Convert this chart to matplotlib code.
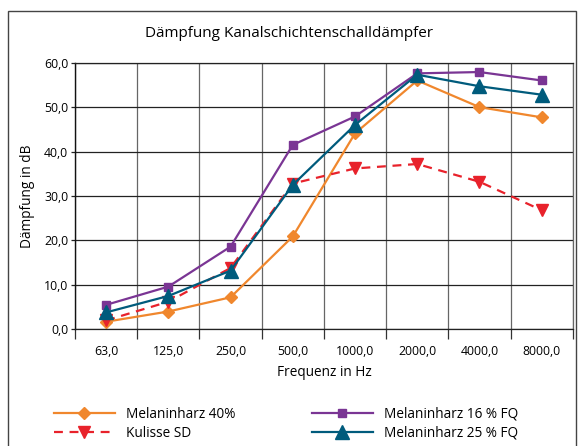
import matplotlib.pyplot as plt
import numpy as np
from matplotlib.patches import Rectangle

plt.rcParams['font.family'] = ['Open Sans', 'DejaVu Sans']

freqs = ["63,0", "125,0", "250,0", "500,0", "1000,0", "2000,0", "4000,0", "8000,0"]
melanin_40 = [1.7, 4.0, 7.2, 20.9, 44.1, 56.0, 50.0, 47.7]
kulisse_sd = [2.0, 6.2, 13.8, 32.8, 36.2, 37.2, 33.2, 26.8]
melanin_16 = [5.5, 9.6, 18.6, 41.5, 47.9, 57.6, 57.9, 56.0]
melanin_25 = [3.8, 7.5, 13.2, 32.5, 46.0, 57.3, 54.7, 52.8]

fig = plt.figure(figsize=(5.78, 4.46), dpi=100)
ax = fig.add_axes([0.1298, 0.2617, 0.991 - 0.1298, 0.8594 - 0.2617])

x = np.arange(len(freqs))
l1, = ax.plot(x, melanin_40, color="#F0872D", marker="D", markersize=6, lw=1.6, label="Melaninharz 40%")
l2, = ax.plot(x, kulisse_sd, color="#E8222B", marker="v", markersize=9, lw=1.6, ls=(0, (4, 3)), label="Kulisse SD")
l3, = ax.plot(x, melanin_16, color="#7A3594", marker="s", markersize=6, lw=1.6, label="Melaninharz 16 % FQ")
l4, = ax.plot(x, melanin_25, color="#005B7C", marker="^", markersize=10, lw=1.6, label="Melaninharz 25 % FQ")

ax.set_xlim(-0.5, len(freqs) - 0.5)
ax.set_ylim(0, 60)
ax.set_yticks(np.arange(0, 61, 10))
ax.set_yticklabels([f"{v:.1f}".replace(".", ",") for v in np.arange(0, 61, 10)], fontsize=8.8)
ax.set_xticks(x)
ax.set_xticklabels(freqs, fontsize=8.8)
ax.tick_params(axis="x", length=0, pad=11)
ax.set_xticks(np.arange(-0.5, len(freqs)), minor=True)
ax.tick_params(axis="x", which="minor", length=7, width=0.9, color="#333333", direction="out")
ax.tick_params(axis="y", length=3, width=0.9, color="#222222", pad=2)

ax.grid(axis="y", color="#222222", lw=0.9)
ax.grid(axis="x", which="minor", color="#666666", lw=0.9)
ax.set_axisbelow(True)
for side in ["top", "bottom"]:
    ax.spines[side].set_color("#222222")
    ax.spines[side].set_linewidth(0.9)
ax.spines["left"].set_color("#111111")
ax.spines["left"].set_linewidth(1.0)
ax.spines["right"].set_color("#666666")
ax.spines["right"].set_linewidth(0.9)

ax.set_xlabel("Frequenz in Hz", fontsize=9.8, labelpad=5)
ax.set_ylabel("Dämpfung in dB", fontsize=9.8, labelpad=6)
fig.text(0.5, 0.925, "Dämpfung Kanalschichtenschalldämpfer", ha="center", va="center", fontsize=11)

fig.patches.append(Rectangle((8 / 578, -0.05), 568 / 578, 1.05 - 11 / 446, transform=fig.transFigure,
                             fill=False, edgecolor="#444444", lw=1.0))

fig.legend(handles=[l1, l2, l3, l4], ncol=2, loc="center left", bbox_to_anchor=(0.072, 0.05),
           frameon=False, fontsize=9.8, handlelength=4.5, columnspacing=5.6, labelspacing=0.3,
           handletextpad=0.8)

fig.savefig("out.png", dpi=100)
